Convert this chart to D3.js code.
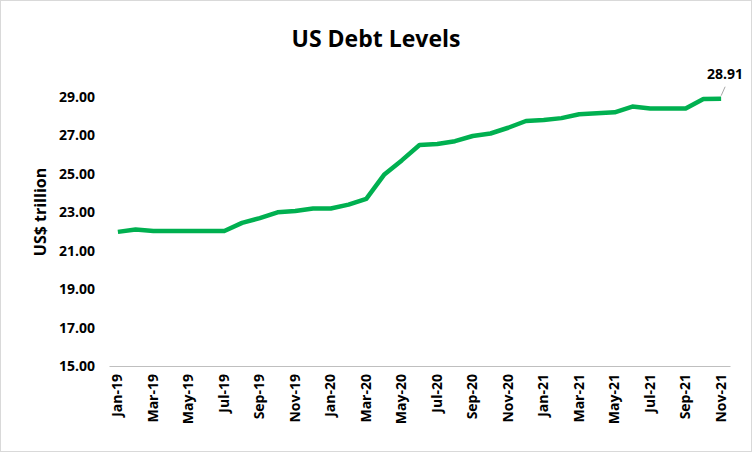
<!DOCTYPE html><html><head><script src="https://cdn.jsdelivr.net/npm/d3@7"></script>
<style>body{margin:0;background:#fff}text{font-family:"Open Sans","Liberation Sans",sans-serif}</style></head><body>
<svg id="c" width="752" height="452"></svg>
<script>
const months=["Jan-19","Feb-19","Mar-19","Apr-19","May-19","Jun-19","Jul-19","Aug-19","Sep-19","Oct-19","Nov-19","Dec-19","Jan-20","Feb-20","Mar-20","Apr-20","May-20","Jun-20","Jul-20","Aug-20","Sep-20","Oct-20","Nov-20","Dec-20","Jan-21","Feb-21","Mar-21","Apr-21","May-21","Jun-21","Jul-21","Aug-21","Sep-21","Oct-21","Nov-21"];
const debt=[21.98,22.1,22.03,22.03,22.03,22.03,22.03,22.45,22.7,23.0,23.07,23.2,23.2,23.4,23.7,24.95,25.7,26.5,26.55,26.7,26.97,27.1,27.4,27.75,27.8,27.9,28.1,28.15,28.2,28.5,28.4,28.4,28.4,28.9,28.91];
const yTicks=[15,17,19,21,23,25,27,29];
const svg=d3.select("#c");
svg.append("rect").attr("x",0.5).attr("y",0.5).attr("width",751).attr("height",451).attr("fill","#fff").attr("stroke","#d9d9d9");
const x=d3.scaleBand().domain(months).range([109,730]);
const y=d3.scaleLinear().domain([15,29]).range([366,97]);
const cx=d=>x(d)+x.bandwidth()/2;
svg.append("text").attr("x",376).attr("y",47).attr("text-anchor","middle").attr("font-size",23).attr("font-weight","bold").text("US Debt Levels");
const ya=svg.append("g").attr("transform","translate(109,0)").call(d3.axisLeft(y).tickValues(yTicks).tickFormat(d3.format(".2f")).tickSize(0).tickPadding(14));
ya.select(".domain").remove();
ya.selectAll("text").attr("font-size",14).attr("font-weight","bold").attr("fill","#000");
const xa=svg.append("g").attr("transform","translate(0,366)").call(d3.axisBottom(x).tickValues(months.filter((d,i)=>i%2==0)).tickSize(0));
xa.select(".domain").attr("stroke","#bfbfbf");
xa.selectAll("text").attr("font-size",14).attr("font-weight","bold").attr("fill","#000").attr("transform","rotate(-90)").attr("text-anchor","end").attr("dx","-8").attr("dy","0.32em").attr("x",0).attr("y",0);
svg.append("text").attr("transform","translate(46,212) rotate(-90)").attr("text-anchor","middle").attr("font-size",16).attr("font-weight","bold").text("US$ trillion");
svg.append("path").datum(debt).attr("fill","none").attr("stroke","#00b050").attr("stroke-width",4.5).attr("stroke-linejoin","round")
 .attr("d",d3.line().x((d,i)=>cx(months[i])).y(d=>y(d)));
const lx=cx(months[34]),ly=y(debt[34]);
svg.append("line").attr("x1",lx).attr("y1",ly-3).attr("x2",lx+4).attr("y2",ly-12).attr("stroke","#a6a6a6");
svg.append("text").attr("x",lx+4).attr("y",ly-20).attr("text-anchor","middle").attr("font-size",14).attr("font-weight","bold").text("28.91");
</script></body></html>
